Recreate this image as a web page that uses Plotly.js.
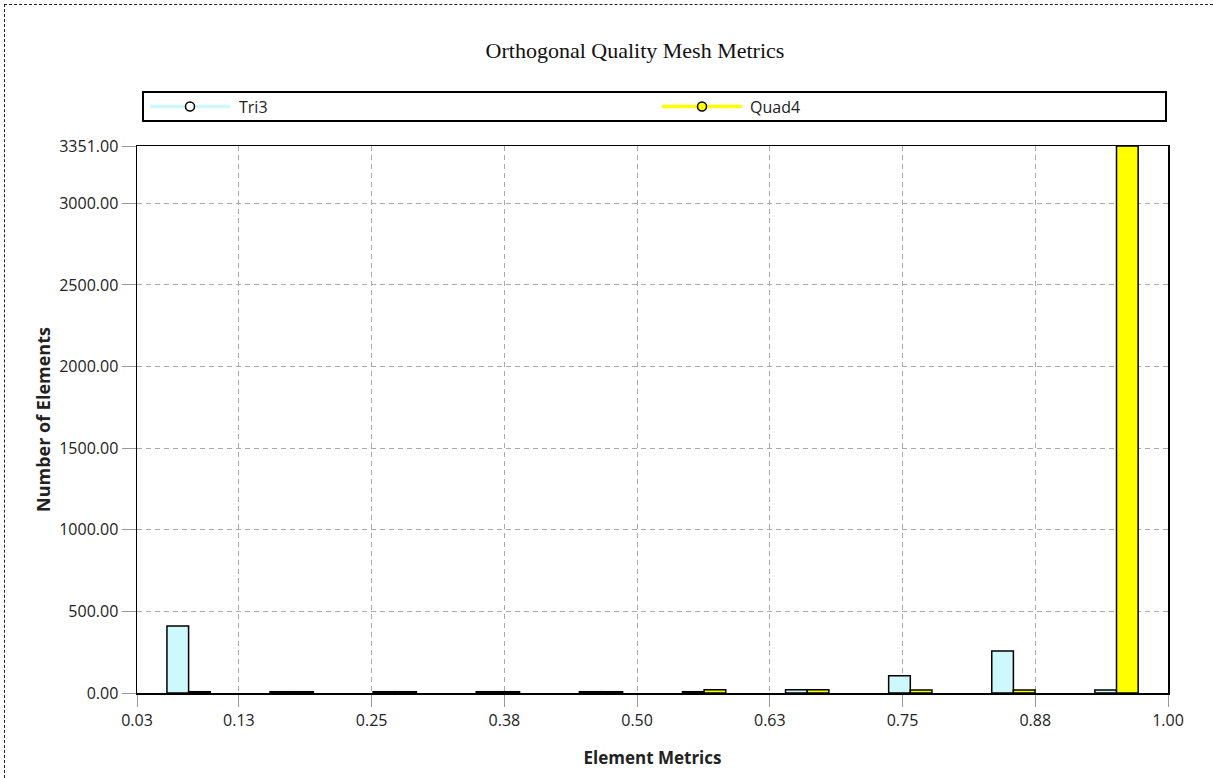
<!DOCTYPE html>
<html>
<head>
<meta charset="utf-8">
<script src="https://cdn.plot.ly/plotly-3.0.1.min.js"></script>
<style>
  html, body { margin: 0; padding: 0; background: #fff; }
  #chart { width: 1213px; height: 778px; }
  #frame { position: absolute; left: 4px; top: 4px; width: 1213px; height: 778px;
           border-top: 1px dashed #222; border-left: 1px dashed #222; pointer-events: none; }
</style>
</head>
<body>
<div id="chart"></div>
<div id="frame"></div>
<script>
// Histogram bin centres (Element Metrics), 10 bins between 0.029 and 1.00
const binCenters = [0.0776, 0.1747, 0.2718, 0.3689, 0.4660, 0.5631, 0.6602, 0.7573, 0.8544, 0.9515];
// Number of elements per bin
const tri3Counts  = [410, 8, 8, 8, 8, 8, 20, 105, 257, 18];
const quad4Counts = [8, 8, 8, 8, 8, 20, 20, 18, 18, 3351];
// Axis ticks
const xTickVals = [0.029, 0.125, 0.25, 0.375, 0.5, 0.625, 0.75, 0.875, 1.0];
const xTickText = ['0.03', '0.13', '0.25', '0.38', '0.50', '0.63', '0.75', '0.88', '1.00'];
const yTickVals = [0, 500, 1000, 1500, 2000, 2500, 3000, 3351];
const seriesNames = ['Tri3', 'Quad4'];
const seriesColors = ['#cdf8fc', '#ffff00'];
const markerFills = ['#ffffff', '#ffff00'];

const uiFont = 'Open Sans, Noto Sans, sans-serif';

// plot area in pixels (for placing the custom legend)
const M = { l: 137, r: 45, t: 146, b: 85 };
const W = 1213, H = 778;
const pw = W - M.l - M.r, ph = H - M.t - M.b;
const px = x => (x - M.l) / pw;
const py = y => (H - M.b - y) / ph;

const traces = [
  { type: 'bar', x: binCenters, y: tri3Counts, name: seriesNames[0],
    marker: { color: seriesColors[0], line: { color: '#000', width: 1.5 } } },
  { type: 'bar', x: binCenters, y: quad4Counts, name: seriesNames[1],
    marker: { color: seriesColors[1], line: { color: '#000', width: 1.5 } } }
];

// legend drawn as a framed strip: line + open circle + label per series
const legendY = 106.5;
const legendItems = [{ lx0: 150, lx1: 230, mx: 190, tx: 237 }, { lx0: 662, lx1: 742, mx: 702, tx: 748 }];
const shapes = [
  { type: 'rect', xref: 'paper', yref: 'paper', x0: px(143), x1: px(1166), y0: py(121), y1: py(92),
    line: { color: '#000', width: 2 }, fillcolor: '#fff', layer: 'above' }
];
const annotations = [];
legendItems.forEach((it, i) => {
  shapes.push({ type: 'line', xref: 'paper', yref: 'paper', x0: px(it.lx0), x1: px(it.lx1),
    y0: py(legendY), y1: py(legendY), line: { color: seriesColors[i], width: 3.5 }, layer: 'above' });
  shapes.push({ type: 'circle', xref: 'paper', yref: 'paper', xsizemode: 'pixel', ysizemode: 'pixel',
    xanchor: px(it.mx), yanchor: py(legendY), x0: -4.5, x1: 4.5, y0: -4.5, y1: 4.5,
    line: { color: '#000', width: 1.5 }, fillcolor: markerFills[i], layer: 'above' });
  annotations.push({ xref: 'paper', yref: 'paper', x: px(it.tx), y: py(legendY), xanchor: 'left', yanchor: 'middle',
    text: seriesNames[i], showarrow: false, font: { family: uiFont, size: 16, color: '#222' } });
});

const layout = {
  width: W, height: H,
  paper_bgcolor: '#fff', plot_bgcolor: '#fff',
  margin: M,
  barmode: 'group', bargap: 0.58, bargroupgap: 0,
  showlegend: false,
  title: { text: 'Orthogonal Quality Mesh Metrics', font: { family: 'Liberation Serif, serif', size: 22, color: '#111' },
           x: 635 / W, xref: 'container', xanchor: 'center', y: 1 - 50 / H, yref: 'container', yanchor: 'middle' },
  xaxis: {
    range: [0.029, 1.0], tickmode: 'array', tickvals: xTickVals, ticktext: xTickText,
    showline: true, linecolor: '#000', linewidth: 1.5, mirror: true,
    ticks: 'outside', ticklen: 12, tickcolor: '#999', tickwidth: 1,
    showgrid: true, gridcolor: '#aaa', griddash: '5px,4px', gridwidth: 1, zeroline: false,
    tickfont: { family: uiFont, size: 16, color: '#222' },
    title: { text: '<b>Element Metrics</b>', font: { family: uiFont, size: 17, color: '#222' }, standoff: 22 }
  },
  yaxis: {
    range: [0, 3351], tickmode: 'array', tickvals: yTickVals, tickformat: '.2f',
    showline: true, linecolor: '#000', linewidth: 1.5, mirror: true,
    ticks: 'outside', ticklen: 14, tickcolor: '#999', tickwidth: 1,
    showgrid: true, gridcolor: '#aaa', griddash: '5px,4px', gridwidth: 1, zeroline: false,
    tickfont: { family: uiFont, size: 16, color: '#222' },
    title: { text: '<b>Number of Elements</b>', font: { family: uiFont, size: 18, color: '#222' }, standoff: 4 }
  },
  shapes: shapes,
  annotations: annotations
};

Plotly.newPlot('chart', traces, layout, { displayModeBar: false, staticPlot: true });
</script>
</body>
</html>
